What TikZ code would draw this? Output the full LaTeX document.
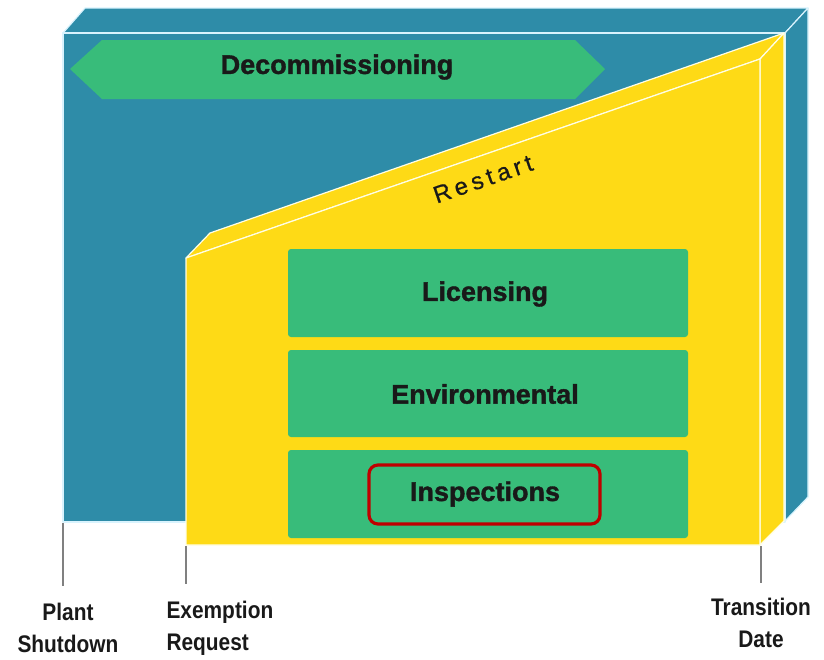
\documentclass[tikz,border=0pt]{standalone}
\usepackage{fontspec}
\setmainfont{Liberation Sans}
\newfontfamily\narrowfont{Liberation Sans Bold}[FakeStretch=0.87]
\newfontfamily\heavyfont{Liberation Sans Bold}[FakeBold=1.3]
\newfontfamily\spacedfont{Liberation Sans}[LetterSpace=18,FakeBold=0.6]
\definecolor{tealc}{RGB}{46,140,168}
\definecolor{yelc}{RGB}{254,218,22}
\definecolor{grnc}{RGB}{56,188,122}
\definecolor{redc}{RGB}{192,0,0}
\definecolor{txtc}{RGB}{25,25,25}
\begin{document}
\begin{tikzpicture}[x=1pt,y=-1pt,
  face/.style={draw=white!85!cyan,line width=1.2pt,line join=round},
  tealface/.style={face,fill=tealc},
  yelface/.style={face,fill=yelc,draw=white!90!yellow},
  greenbox/.style={fill=grnc,rounded corners=3pt},
  boxtext/.style={font=\heavyfont\fontsize{27}{30}\selectfont,text=txtc},
  tick/.style={draw=gray,line width=1.6pt},
  bottomlabel/.style={font=\narrowfont\fontsize{24}{32}\selectfont,text=txtc}]
\useasboundingbox (0,0) rectangle (824,659);
% teal block
\draw[tealface] (63,33) -- (85,8) -- (808,8) -- (785,33) -- cycle;
\draw[tealface] (785,33) -- (808,8) -- (808,497) -- (785,521) -- cycle;
\draw[tealface] (63,33) rectangle (785,522);
% decommissioning arrow
\fill[grnc] (70,69) -- (102,40) -- (575,40) -- (605,69) -- (575,99) -- (102,99) -- cycle;
\node[font=\heavyfont\fontsize{27}{30}\selectfont,text=txtc] (decom) at (337,67) {Decommissioning};
% yellow block
\draw[yelface] (186,258) -- (210,233) -- (784,33) -- (760,59) -- cycle;
\draw[yelface] (760,59) -- (784,33) -- (784,521) -- (760,545) -- cycle;
\draw[yelface] (186,258) -- (760,59) -- (760,545) -- (186,545) -- cycle;
\node[font=\spacedfont\fontsize{24}{28}\selectfont,text=txtc,rotate=19.1] (restart) at (483,179) {Restart};
% green boxes
\fill[greenbox] (288,249) rectangle (688,337);
\fill[greenbox] (288,350) rectangle (688,437);
\fill[greenbox] (288,450) rectangle (688,538);
\node[boxtext] (lic) at (485,294) {Licensing};
\node[boxtext] (env) at (485,394) {Environmental};
\draw[redc,line width=3.2pt,rounded corners=9pt] (369,465) rectangle (600,524);
\node[boxtext] (insp) at (485,494) {Inspections};
% ticks
\draw[tick] (63,523) -- (63,586);
\draw[tick] (186,546) -- (186,584);
\draw[tick] (761,546) -- (761,583);
% bottom labels
\node[bottomlabel,align=center] (plant) at (68,628) {Plant\\Shutdown};
\node[bottomlabel,align=left,anchor=west] (exempt) at (163,628) {Exemption\\Request};
\node[bottomlabel,align=center] (trans) at (761,623) {Transition\\Date};
\end{tikzpicture}
\end{document}
